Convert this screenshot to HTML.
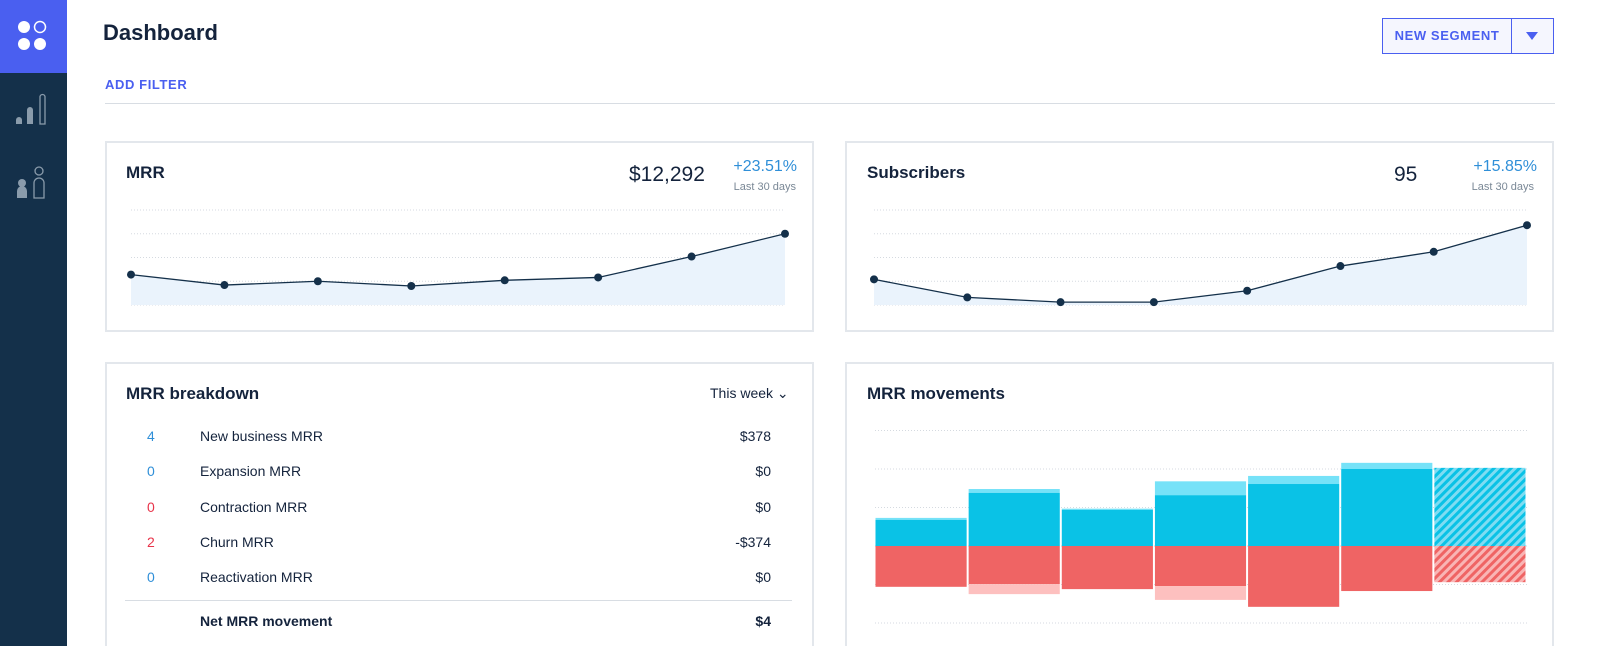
<!DOCTYPE html>
<html><head><meta charset="utf-8">
<style>
*{box-sizing:border-box;margin:0;padding:0}
html,body{width:1600px;height:646px;overflow:hidden;background:#fff}
body{font-family:"Liberation Sans",sans-serif;color:#14233c}
#root{position:relative;width:1600px;height:646px;overflow:hidden}
.abs{position:absolute}
.card{position:absolute;border:2px solid #e3e7ec;background:#fff}
.t{position:absolute;white-space:nowrap}
</style></head><body><div id="root">
<div class="abs" style="left:0;top:0;width:67px;height:646px;background:#14304a"></div>
<div class="abs" style="left:0;top:0;width:67px;height:73px;background:#4a5ff0">
 <svg width="67" height="73"><circle cx="24" cy="27" r="6" fill="#fff"/><circle cx="40" cy="27" r="5.5" fill="none" stroke="#fff" stroke-width="1.5"/><circle cx="24" cy="44" r="6" fill="#fff"/><circle cx="40" cy="44" r="6" fill="#fff"/></svg>
</div>
<svg class="abs" style="left:0;top:90px" width="67" height="120">
 <path d="M16 34v-4a3 3 0 0 1 6 0v4z" fill="#8a9bab"/><path d="M27 34v-14a3 3 0 0 1 6 0v14z" fill="#8a9bab"/><path d="M40 34v-27a2.5 2.5 0 0 1 5 0v27z" fill="none" stroke="#8a9bab" stroke-width="1.3"/>
 <circle cx="22" cy="93" r="4" fill="#8a9bab"/><path d="M17 108v-7a5 5 0 0 1 10 0v7z" fill="#8a9bab"/><circle cx="39" cy="81" r="4" fill="none" stroke="#8a9bab" stroke-width="1.3"/><path d="M34 108v-15a5 5 0 0 1 10 0v15z" fill="none" stroke="#8a9bab" stroke-width="1.3"/>
</svg>
<div class="t" style="left:103px;top:20px;font-size:22px;font-weight:bold;color:#14233c">Dashboard</div>
<div class="t" style="left:105px;top:77px;font-size:13px;font-weight:bold;color:#4a5ff0;letter-spacing:0.6px">ADD FILTER</div>
<div class="abs" style="left:105px;top:103px;width:1450px;height:1px;background:#d8dde3"></div>
<div class="abs" style="left:1382px;top:18px;width:130px;height:36px;border:1.5px solid #4a5ff0;background:#f5f6fe;color:#4a5ff0;font-size:13px;font-weight:bold;letter-spacing:0.6px;text-align:center;line-height:33px">NEW SEGMENT</div>
<div class="abs" style="left:1511px;top:18px;width:43px;height:36px;border:1.5px solid #4a5ff0;background:#f5f6fe"><svg width="40" height="33"><path d="M14 13h12l-6 8z" fill="#4a5ff0"/></svg></div>

<div class="card" style="left:105px;top:141px;width:709px;height:191px"></div>
<div class="t" style="left:126px;top:163px;font-size:17px;font-weight:bold">MRR</div>
<div class="t" style="left:629px;top:163px;font-size:21px">$12,292</div>
<div class="t" style="right:803px;top:158px;font-size:16px;color:#2f8fd8">+23.51%</div>
<div class="t" style="right:804px;top:181px;font-size:11px;color:#7a8896">Last 30 days</div>
<svg class="abs" id="mrrChart" style="left:0;top:0" width="820" height="340"></svg>

<div class="card" style="left:845px;top:141px;width:709px;height:191px"></div>
<div class="t" style="left:867px;top:163px;font-size:17px;font-weight:bold">Subscribers</div>
<div class="t" style="left:1394px;top:163px;font-size:21px">95</div>
<div class="t" style="right:63px;top:158px;font-size:16px;color:#2f8fd8">+15.85%</div>
<div class="t" style="right:66px;top:181px;font-size:11px;color:#7a8896">Last 30 days</div>
<svg class="abs" id="subChart" style="left:0;top:0" width="1600" height="340"></svg>

<div class="card" style="left:105px;top:362px;width:709px;height:300px"></div>
<div class="t" style="left:126px;top:384px;font-size:17px;font-weight:bold">MRR breakdown</div>
<div class="t" style="left:710px;top:385px;font-size:14px">This week ⌄</div>
<div id="rows"></div>
<div class="abs" style="left:125px;top:600px;width:667px;height:1px;background:#d8dde3"></div>
<div class="t" style="left:200px;top:613px;font-size:14px;font-weight:bold">Net MRR movement</div>
<div class="t" style="right:829px;top:613px;font-size:14px;font-weight:bold">$4</div>

<div class="card" style="left:845px;top:362px;width:709px;height:300px"></div>
<div class="t" style="left:867px;top:384px;font-size:17px;font-weight:bold">MRR movements</div>
<svg class="abs" id="movChart" style="left:0;top:0" width="1600" height="646">
 <defs>
  <pattern id="hb" width="6" height="6" patternUnits="userSpaceOnUse" patternTransform="rotate(45)"><rect width="6" height="6" fill="#7fdcf2"/><rect width="3" height="6" fill="#0ac2e6"/></pattern>
  <pattern id="hr" width="6" height="6" patternUnits="userSpaceOnUse" patternTransform="rotate(45)"><rect width="6" height="6" fill="#f9b5b5"/><rect width="3" height="6" fill="#ef6464"/></pattern>
 </defs>
</svg>
</div>
<script>
// MRR line chart data
const mrrValues = [32, 21, 25, 20, 26, 29, 51, 75];
// Subscribers line chart data
const subValues = [27, 8, 3, 3, 15, 41, 56, 84];
// MRR movements data (per week)
const weeks = ["W1","W2","W3","W4","W5","W6","W7"];
const newBiz = [68, 138, 94, 132, 161, 200, 203];
const expansion = [5, 10, 3, 36, 21, 16, 0];
const churn = [106, 99, 112, 104, 158, 117, 94];
const contraction = [0, 26, 0, 36, 0, 0, 0];
const projected = [false,false,false,false,false,false,true];
// breakdown table
const bdCounts = ["4","0","0","2","0"];
const bdLabels = ["New business MRR","Expansion MRR","Contraction MRR","Churn MRR","Reactivation MRR"];
const bdValues = ["$378","$0","$0","-$374","$0"];
const bdColors = ["#2f8fd8","#2f8fd8","#e8344a","#e8344a","#2f8fd8"];

const NS="http://www.w3.org/2000/svg";
function mk(tag,attrs,parent){const e=document.createElementNS(NS,tag);for(const k in attrs)e.setAttribute(k,attrs[k]);parent.appendChild(e);return e;}

function lineChart(svg,vals,x0,x1,name){
  const yBase=305, yTop=210, maxV=100;
  const y=v=>yBase-(v/maxV)*(yBase-yTop);
  const x=i=>x0+i*(x1-x0)/(vals.length-1);
  for(let g=0;g<5;g++){const gy=yTop+g*(yBase-yTop)/4;
    const l=mk('line',{x1:x0,x2:x1,y1:gy,y2:gy,stroke:'#d5dae0','stroke-dasharray':'1 2'},svg);
    
    }
  let d='M'+x(0)+' '+y(vals[0]);vals.forEach((v,i)=>{if(i)d+=' L'+x(i)+' '+y(v);});
  const a=mk('path',{d:d+' L'+x1+' '+yBase+' L'+x0+' '+yBase+'Z',fill:'#eaf3fc'},svg);
  
  
  const p=mk('path',{d:d,fill:'none',stroke:'#14304a','stroke-width':1.3},svg);
  
  
  vals.forEach((v,i)=>{const c=mk('circle',{cx:x(i),cy:y(v),r:4,fill:'#14304a'},svg);
    
    });
}
lineChart(document.getElementById('mrrChart'),mrrValues,131,785,'mrr');
lineChart(document.getElementById('subChart'),subValues,874,1527,'subscribers');

const rows=document.getElementById('rows');
bdLabels.forEach((lab,i)=>{
  const top=428+i*35.3;
  const c=document.createElement('div');c.className='t';c.style.cssText=`left:147px;top:${top}px;font-size:14px;color:${bdColors[i]}`;c.textContent=bdCounts[i];
  
  rows.appendChild(c);
  const l=document.createElement('div');l.className='t';l.style.cssText=`left:200px;top:${top}px;font-size:14px`;l.textContent=lab;
  
  rows.appendChild(l);
  const v=document.createElement('div');v.className='t';v.style.cssText=`right:829px;top:${top}px;font-size:14px`;v.textContent=bdValues[i];
  
  rows.appendChild(v);
});

(function(){
  const svg=document.getElementById('movChart');
  const zero=546, unit=38.5/100, x0=875, x1=1527;
  const y=v=>zero-v*unit;
  const bw=(x1-x0)/weeks.length;
  for(let g=-2;g<=3;g++){const gy=y(g*100);
    const l=mk('line',{x1:x0,x2:x1,y1:gy,y2:gy,stroke:'#d5dae0','stroke-dasharray':'1 2'},svg);
    
    }
  weeks.forEach((w,i)=>{
    const bx=x0+i*bw+0.5, ww=bw-2;
    if(projected[i]){
      const a=mk('rect',{x:bx,y:y(newBiz[i]),width:ww,height:newBiz[i]*unit,fill:'url(#hb)'},svg);
      
      
      const b=mk('rect',{x:bx,y:zero,width:ww,height:churn[i]*unit,fill:'url(#hr)'},svg);
      
      
      return;
    }
    const e=mk('rect',{x:bx,y:y(newBiz[i]+expansion[i]),width:ww,height:expansion[i]*unit,fill:'#76e2f8'},svg);
    
    
    const n=mk('rect',{x:bx,y:y(newBiz[i]),width:ww,height:newBiz[i]*unit,fill:'#0ac2e6'},svg);
    
    
    const c=mk('rect',{x:bx,y:zero,width:ww,height:churn[i]*unit,fill:'#ef6464'},svg);
    
    
    const ct=mk('rect',{x:bx,y:zero+churn[i]*unit,width:ww,height:contraction[i]*unit,fill:'#fdc0bf'},svg);
    
    
  });
})();
</script>
</body></html>
